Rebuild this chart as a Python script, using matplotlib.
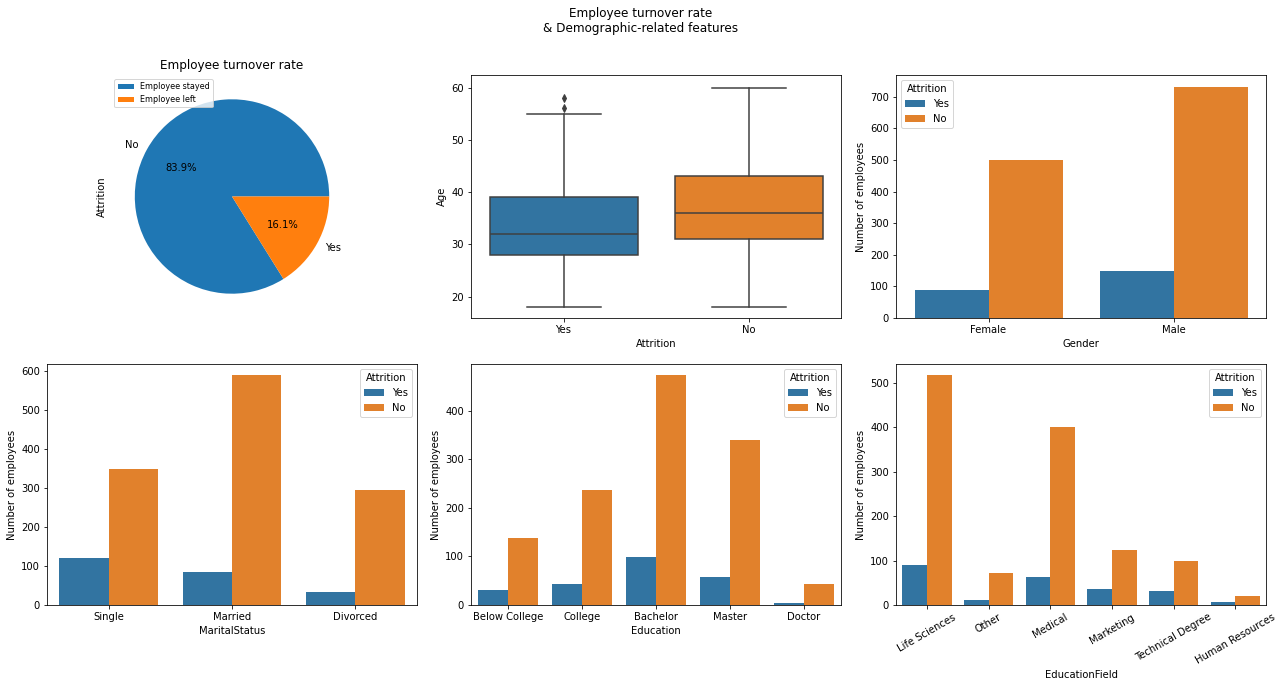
import numpy as np
import matplotlib.pyplot as plt

# data (IBM HR attrition)
attrition_labels = ["No", "Yes"]
attrition_counts = [1233, 237]
legend_labels = ["Employee stayed", "Employee left"]

hue_labels = ["Yes", "No"]

gender_cats = ["Female", "Male"]
gender_yes = [87, 150]
gender_no = [501, 732]

marital_cats = ["Single", "Married", "Divorced"]
marital_yes = [120, 84, 33]
marital_no = [350, 589, 294]

edu_cats = ["Below College", "College", "Bachelor", "Master", "Doctor"]
edu_yes = [31, 44, 99, 58, 5]
edu_no = [139, 238, 473, 340, 43]

field_cats = ["Life Sciences", "Other", "Medical", "Marketing",
              "Technical Degree", "Human Resources"]
field_yes = [89, 11, 63, 35, 32, 7]
field_no = [517, 71, 401, 124, 100, 20]

# age box stats per attrition group
age_groups = ["Yes", "No"]
age_q1 = [28, 31]
age_med = [32, 36]
age_q3 = [39, 43]
age_lo = [18, 18]
age_hi = [55, 60]
age_fliers = [[56, 58], []]

BLUE = "#3274a1"
ORANGE = "#e1812c"
PIE_BLUE = "#1f77b4"
PIE_ORANGE = "#ff7f0e"
GRAY = "#3f3f3f"

fig = plt.figure(figsize=(1282 / 72, 687 / 72), dpi=72)
fig.suptitle("Employee turnover rate\n& Demographic-related features",
             fontsize=12, y=0.99)

W, H = 1282, 687
def pos(x0, y0, x1, y1):
    return [x0 / W, 1 - y1 / H, (x1 - x0) / W, (y1 - y0) / H]

cols = [(47, 417), (471, 841), (896, 1266)]
rows = [(75, 318), (364, 605)]

# pie
ax = fig.add_axes(pos(cols[0][0], rows[0][0], cols[0][1], rows[0][1]))
ax.pie(attrition_counts, labels=attrition_labels, autopct="%1.1f%%",
       colors=[PIE_BLUE, PIE_ORANGE])
ax.set_xlim(-1.25, 1.25)
ax.set_ylim(-1.25, 1.25)
ax.set_aspect("equal")
ax.set_ylabel("Attrition")
ax.set_title("Employee turnover rate")
ax.legend(legend_labels, loc="upper left", fontsize=8)

# box plot
ax = fig.add_axes(pos(cols[1][0], rows[0][0], cols[1][1], rows[0][1]))
stats = []
for i, g in enumerate(age_groups):
    stats.append(dict(label=g, q1=age_q1[i], med=age_med[i], q3=age_q3[i],
                      whislo=age_lo[i], whishi=age_hi[i], fliers=age_fliers[i]))
bp = ax.bxp(stats, positions=[0, 1], widths=0.8, patch_artist=True,
            showfliers=True,
            boxprops=dict(edgecolor=GRAY, linewidth=1.5),
            medianprops=dict(color=GRAY, linewidth=1.5),
            whiskerprops=dict(color=GRAY, linewidth=1.5),
            capprops=dict(color=GRAY, linewidth=1.5),
            flierprops=dict(marker="d", markerfacecolor=GRAY,
                            markeredgecolor=GRAY, markersize=5))
for patch, c in zip(bp["boxes"], [BLUE, ORANGE]):
    patch.set_facecolor(c)
for cap in bp["caps"]:
    m = np.mean(cap.get_xdata())
    cap.set_xdata([m - 0.2, m + 0.2])
ax.set_xlim(-0.5, 1.5)
ax.set_ylim(15.9, 62.4)
ax.set_xlabel("Attrition")
ax.set_ylabel("Age")


def countplot(ax, cats, yes, no, legend_loc, rotate=False):
    x = np.arange(len(cats))
    ax.bar(x - 0.2, yes, width=0.4, color=BLUE, label=hue_labels[0])
    ax.bar(x + 0.2, no, width=0.4, color=ORANGE, label=hue_labels[1])
    ax.set_xticks(x)
    if rotate:
        ax.set_xticklabels(cats, rotation=30)
    else:
        ax.set_xticklabels(cats)
    ax.set_xlim(-0.5, len(cats) - 0.5)
    ax.set_ylim(0, max(max(yes), max(no)) * 1.05)
    ax.set_ylabel("Number of employees")
    ax.legend(title="Attrition", loc=legend_loc)


ax = fig.add_axes(pos(cols[2][0], rows[0][0], cols[2][1], rows[0][1]))
countplot(ax, gender_cats, gender_yes, gender_no, "upper left")
ax.set_xlabel("Gender")

ax = fig.add_axes(pos(cols[0][0], rows[1][0], cols[0][1], rows[1][1]))
countplot(ax, marital_cats, marital_yes, marital_no, "upper right")
ax.set_xlabel("MaritalStatus")

ax = fig.add_axes(pos(cols[1][0], rows[1][0], cols[1][1], rows[1][1]))
countplot(ax, edu_cats, edu_yes, edu_no, "upper right")
ax.set_xlabel("Education")

ax = fig.add_axes(pos(cols[2][0], rows[1][0], cols[2][1], rows[1][1]))
countplot(ax, field_cats, field_yes, field_no, "upper right", rotate=True)
ax.set_xlabel("EducationField")

fig.savefig("out.png", dpi=72, facecolor="white")
